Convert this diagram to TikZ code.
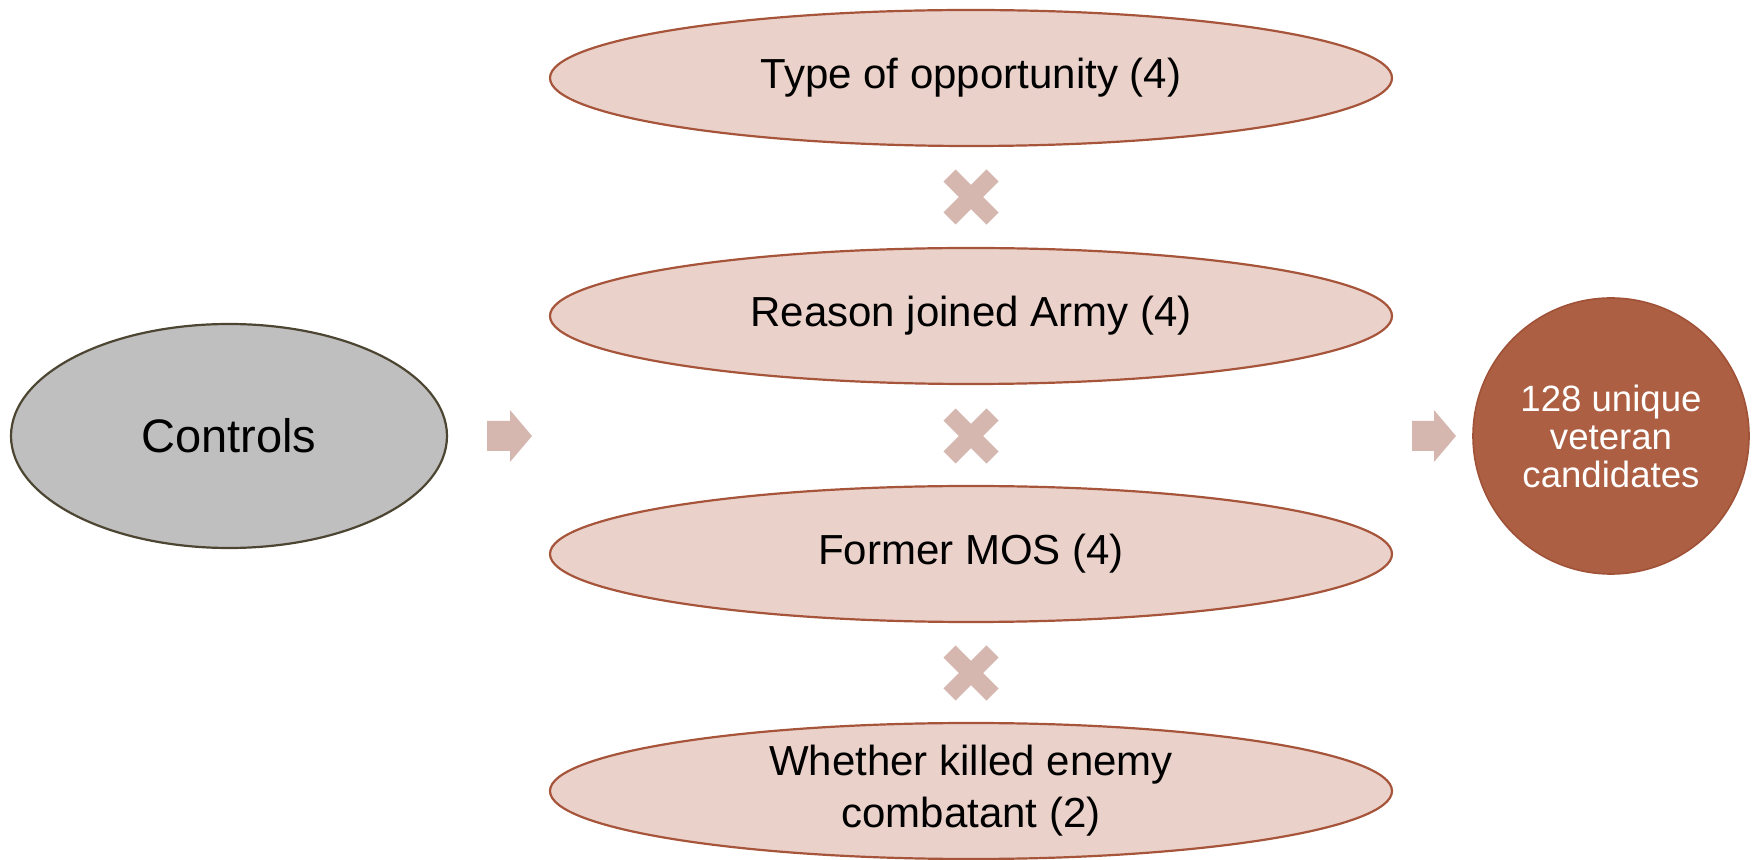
\documentclass[tikz,border=0pt]{standalone}
\usepackage{fontspec}
\setmainfont{Liberation Sans}
\usepackage{tikz}
\usetikzlibrary{shapes.geometric}

\definecolor{factorfill}{RGB}{234,209,202}
\definecolor{factorline}{RGB}{166,84,58}
\definecolor{resultfill}{RGB}{172,95,66}
\definecolor{resultline}{RGB}{160,82,56}
\definecolor{markfill}{RGB}{213,183,176}
\definecolor{ctrlfill}{RGB}{191,191,191}
\definecolor{ctrlline}{RGB}{76,69,50}

\tikzset{
  factor/.style={ellipse, draw=factorline, fill=factorfill, line width=1.1pt,
    minimum width=421pt, minimum height=68pt, inner sep=0pt, align=center,
    font=\fontsize{21}{26}\selectfont},
  ctrl/.style={ellipse, draw=ctrlline, fill=ctrlfill, line width=1.1pt,
    minimum width=218pt, minimum height=112pt, inner sep=0pt,
    font=\fontsize{23.5}{28}\selectfont},
  result/.style={circle, draw=resultline, fill=resultfill, line width=0.8pt,
    minimum size=138pt, inner sep=0pt, align=center, text=white,
    font=\fontsize{18.3}{19}\selectfont},
  timesmark/.style={draw=markfill, line width=8.5pt, line cap=butt},
  fatarrow/.style={fill=markfill, draw=none}
}

\begin{document}
\begin{tikzpicture}[x=0.5pt,y=0.5pt,yscale=-1,xscale=1]
\useasboundingbox (0,0) rectangle (1752,860);

%Shape: Ellipse [controls]
\node[ctrl] (controls) at (229,436) {Controls};

%Shape: Ellipse [factors]
\node[factor] (opportunity) at (971,78) {Type of opportunity (4)};
\node[factor] (reason) at (971,316) {Reason joined Army (4)};
\node[factor] (mos) at (971,554) {Former MOS (4)};
\node[factor] (killed) at (971,791) {Whether killed enemy\\combatant (2)};

%Shape: Circle [result]
\node[result] (candidates) at (1611,436) {128 unique\\veteran\\candidates};

%Shape: Multiply
\coordinate (x1) at (971,197);
\coordinate (x2) at (971,436);
\coordinate (x3) at (971,673);
\draw[timesmark] (x1) +(-21.5,-21.5) -- +(21.5,21.5) +(-21.5,21.5) -- +(21.5,-21.5);
\draw[timesmark] (x2) +(-21.5,-21.5) -- +(21.5,21.5) +(-21.5,21.5) -- +(21.5,-21.5);
\draw[timesmark] (x3) +(-21.5,-21.5) -- +(21.5,21.5) +(-21.5,21.5) -- +(21.5,-21.5);

%Shape: Right Arrow
\coordinate (a1) at (487,436);
\coordinate (a2) at (1412,436);
\fill[fatarrow] (a1) +(0,-15) -- +(23,-15) -- +(23,-26) -- +(45,0) -- +(23,26) -- +(23,15) -- +(0,15) -- cycle;
\fill[fatarrow] (a2) +(0,-15) -- +(22,-15) -- +(22,-26) -- +(44,0) -- +(22,26) -- +(22,15) -- +(0,15) -- cycle;

\end{tikzpicture}
\end{document}
